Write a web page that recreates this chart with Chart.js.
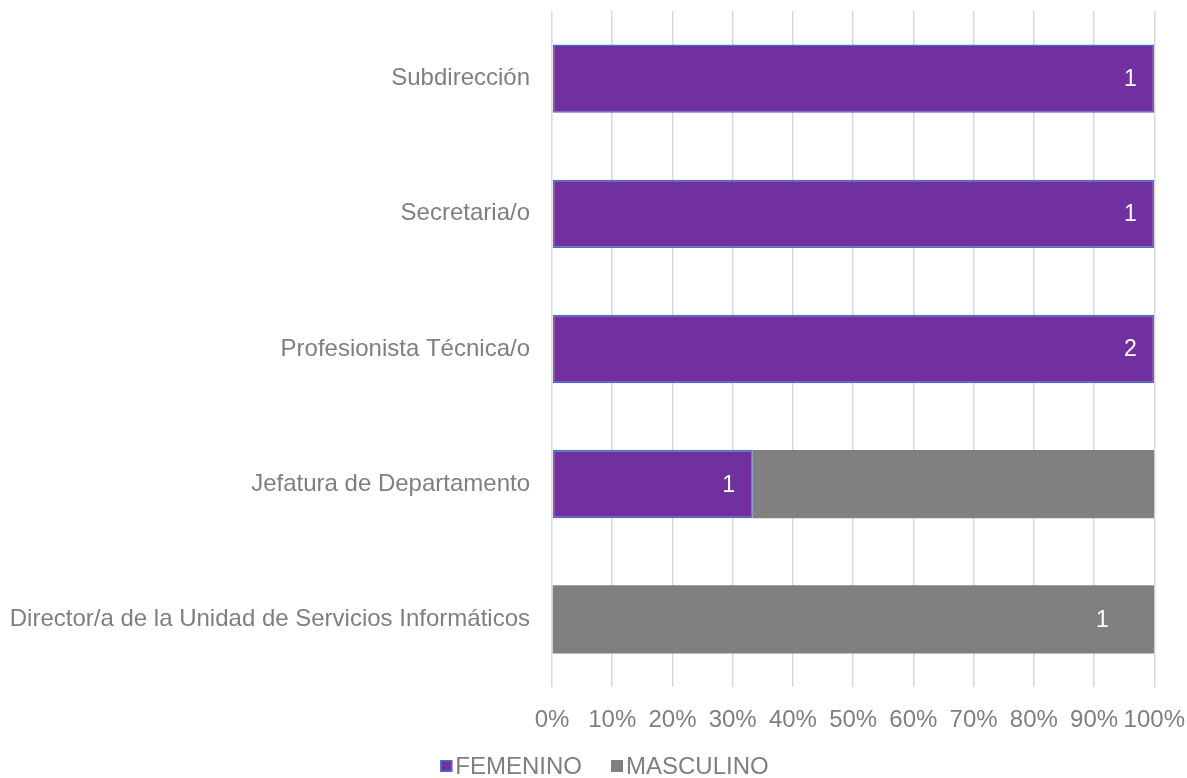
<!DOCTYPE html>
<html>
<head>
<meta charset="utf-8">
<script src="https://cdn.jsdelivr.net/npm/chart.js@4.4.0/dist/chart.umd.min.js"></script>
<style>
  html, body { margin: 0; padding: 0; background: #fff; }
  #wrap { width: 1187px; height: 778px; }
</style>
</head>
<body>
<div id="wrap"><canvas id="puestosChart"></canvas></div>
<script>
// Puestos por sexo (conteos)
const categories = [
    'Subdirección',
    'Secretaria/o',
    'Profesionista Técnica/o',
    'Jefatura de Departamento',
    'Director/a de la Unidad de Servicios Informáticos'
];
const femenino = [1, 1, 2, 1, 0];
const masculino = [0, 0, 0, 2, 1];
// etiquetas de conteo que no se muestran en la barra
const masculinoSinEtiqueta = [false, false, false, true, false];
const femeninoSinEtiqueta = [false, false, false, false, false];

const FONT = "'Liberation Sans', Arial, sans-serif";
const GREY_TEXT = '#7f7f7f';

// porcentaje de cada serie sobre el total del puesto
function toPercent(values) {
    return values.map((v, i) => v / (femenino[i] + masculino[i]) * 100);
}

// escribe el conteo dentro del extremo de cada barra
const countLabels = {
    id: 'countLabels',
    afterDatasetsDraw(chart) {
        const ctx = chart.ctx;
        ctx.save();
        ctx.font = '23px ' + FONT;
        ctx.fillStyle = '#ffffff';
        ctx.textAlign = 'center';
        ctx.textBaseline = 'middle';
        chart.data.datasets.forEach((ds, di) => {
            const meta = chart.getDatasetMeta(di);
            meta.data.forEach((bar, i) => {
                const n = ds.counts[i];
                if (!n || ds.noLabel[i]) return;
                ctx.fillText(String(n), bar.x - ds.labelInset, bar.y + 1);
            });
        });
        ctx.restore();
    }
};

// leyenda inferior con cuadros pegados al texto
const bottomLegend = {
    id: 'bottomLegend',
    afterDraw(chart) {
        const ctx = chart.ctx;
        ctx.save();
        ctx.font = '24px ' + FONT;
        ctx.textBaseline = 'middle';
        const box = 12, gap = 3, spacing = 29;
        const items = chart.data.datasets.map(ds => ({
            text: ds.label, fill: ds.backgroundColor, stroke: ds.legendBorder,
            w: box + gap + ctx.measureText(ds.label).width
        }));
        const total = items.reduce((s, it) => s + it.w, 0) + spacing * (items.length - 1);
        let x = chart.width / 2 + 11 - total / 2;
        const y = 766;
        items.forEach(it => {
            ctx.fillStyle = it.fill;
            ctx.fillRect(x, y - box / 2, box, box);
            if (it.stroke) {
                ctx.strokeStyle = it.stroke;
                ctx.lineWidth = 1.5;
                ctx.strokeRect(x + 0.75, y - box / 2 + 0.75, box - 1.5, box - 1.5);
            }
            ctx.fillStyle = GREY_TEXT;
            ctx.textAlign = 'left';
            ctx.fillText(it.text, x + box + gap, y + 1);
            x += it.w + spacing;
        });
        ctx.restore();
    }
};

const ctx = document.getElementById('puestosChart').getContext('2d');
const puestosChart = new Chart(ctx, {
    type: 'bar',
    data: {
        labels: categories,
        datasets: [
            {
                label: 'FEMENINO',
                data: toPercent(femenino),
                counts: femenino,
                noLabel: femeninoSinEtiqueta,
                labelInset: 24,
                backgroundColor: '#7030a0',
                borderColor: '#4472c4',
                legendBorder: '#4472c4',
                borderWidth: 1.5,
                borderSkipped: false
            },
            {
                label: 'MASCULINO',
                data: toPercent(masculino),
                counts: masculino,
                noLabel: masculinoSinEtiqueta,
                labelInset: 52,
                backgroundColor: '#808080',
                borderWidth: 0
            }
        ]
    },
    options: {
        indexAxis: 'y',
        responsive: true,
        maintainAspectRatio: false,
        animation: false,
        categoryPercentage: 1,
        barPercentage: 0.505,
        layout: { padding: { top: 11, left: 0, right: 0, bottom: 20 } },
        plugins: {
            legend: { display: false },
            tooltip: { enabled: false }
        },
        scales: {
            x: {
                stacked: true,
                min: 0,
                max: 100,
                ticks: {
                    stepSize: 10,
                    padding: 2,
                    autoSkip: false,
                    color: GREY_TEXT,
                    font: { family: FONT, size: 24 },
                    maxRotation: 0,
                    callback: v => v + '%'
                },
                grid: { color: '#d9d9d9', lineWidth: 1.5, tickLength: 17, tickColor: 'rgba(0,0,0,0)' },
                border: { display: false },
                afterFit(scale) { scale.height = 71; }
            },
            y: {
                stacked: true,
                ticks: {
                    padding: 0,
                    color: GREY_TEXT,
                    font: { family: FONT, size: 24, lineHeight: 0.9 }
                },
                grid: { display: false, drawOnChartArea: false, tickLength: 22, tickColor: 'rgba(0,0,0,0)' },
                border: { display: false },
                afterFit(scale) { scale.width = 552; }
            }
        }
    },
    plugins: [countLabels, bottomLegend]
});
</script>
</body>
</html>
